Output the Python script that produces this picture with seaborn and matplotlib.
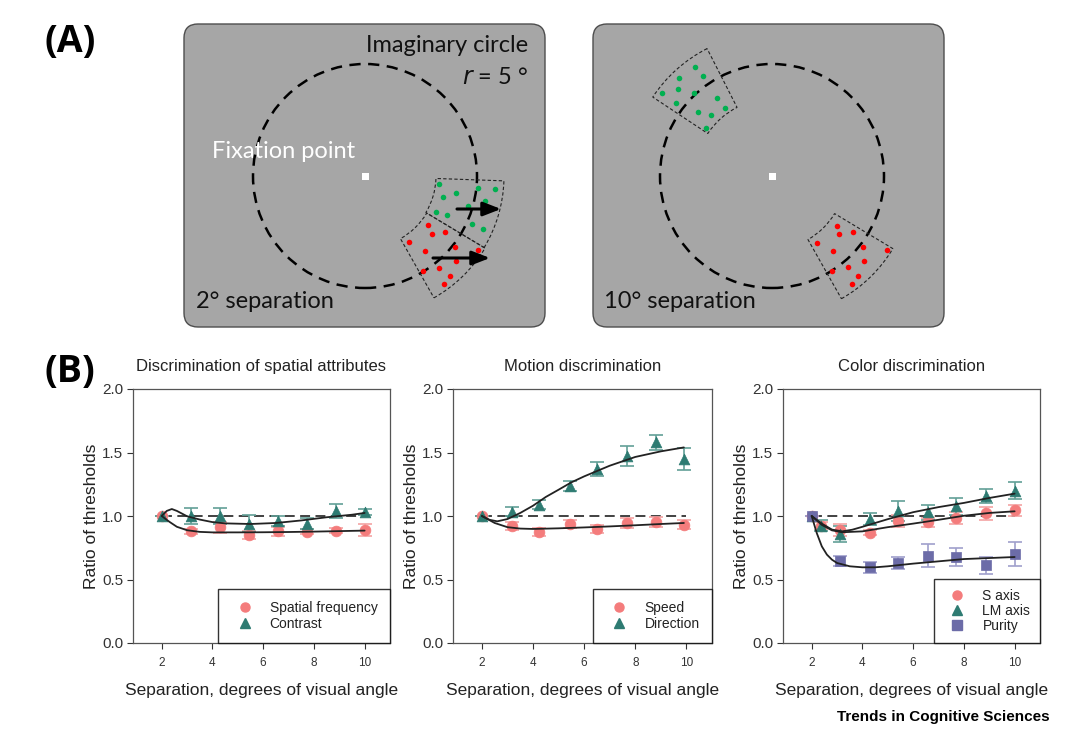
import numpy as np
import pandas as pd
import matplotlib
matplotlib.use("Agg")
import matplotlib.pyplot as plt
import seaborn as sns
from matplotlib.patches import FancyBboxPatch, Circle, Wedge, Rectangle
from matplotlib.lines import Line2D

# ---------------- data (panel B) ----------------
x_spatial = [2.0, 3.14, 4.29, 5.43, 6.57, 7.71, 8.86, 10.0]
sf_y = [1.0, 0.88, 0.91, 0.85, 0.88, 0.875, 0.885, 0.89]
sf_err = [0.0, 0.02, 0.04, 0.03, 0.035, 0.02, 0.02, 0.045]
contrast_y = [1.0, 1.0, 1.0, 0.94, 0.96, 0.94, 1.04, 1.03]
contrast_err = [0.0, 0.065, 0.063, 0.065, 0.04, 0.045, 0.055, 0.025]
sf_fit_x = [2.0, 2.3, 2.6, 3.0, 3.5, 4.0, 5.0, 6.0, 7.0, 8.0, 9.0, 10.0]
sf_fit_y = [1.0, 0.955, 0.915, 0.888, 0.875, 0.871, 0.871, 0.872, 0.874, 0.877, 0.881, 0.885]
ct_fit_x = [2.0, 2.2, 2.4, 2.6, 3.0, 3.5, 4.0, 4.5, 5.5, 6.5, 7.5, 8.5, 9.5, 10.0]
ct_fit_y = [1.0, 1.04, 1.055, 1.04, 0.998, 0.972, 0.952, 0.942, 0.937, 0.945, 0.965, 0.99, 1.01, 1.024]

x_motion = [2.0, 3.18, 4.23, 5.44, 6.52, 7.68, 8.82, 9.9]
speed_y = [1.0, 0.92, 0.875, 0.935, 0.90, 0.945, 0.95, 0.932]
speed_err = [0.0, 0.03, 0.03, 0.03, 0.03, 0.04, 0.04, 0.035]
dir_y = [1.0, 1.035, 1.09, 1.235, 1.37, 1.47, 1.58, 1.45]
dir_err = [0.0, 0.035, 0.037, 0.04, 0.058, 0.08, 0.058, 0.085]
sp_fit_x = [2.0, 2.5, 3.0, 3.5, 4.0, 5.0, 6.0, 7.0, 8.0, 9.0, 9.9]
sp_fit_y = [1.0, 0.945, 0.912, 0.901, 0.898, 0.903, 0.91, 0.918, 0.927, 0.937, 0.945]
dr_fit_x = [2.0, 2.3, 2.6, 3.0, 3.5, 4.0, 4.5, 5.0, 5.5, 6.0, 7.0, 8.0, 9.0, 9.9]
dr_fit_y = [1.0, 0.97, 0.958, 0.976, 1.024, 1.081, 1.15, 1.207, 1.265, 1.312, 1.396, 1.465, 1.509, 1.54]

x_color = [2.0, 2.37, 3.11, 4.31, 5.41, 6.59, 7.68, 8.86, 10.0]
s_y = [1.0, 0.92, 0.89, 0.87, 0.96, 0.95, 0.985, 1.02, 1.045]
s_err = [0.0, 0.03, 0.045, 0.02, 0.045, 0.035, 0.045, 0.05, 0.045]
lm_y = [1.0, 0.925, 0.86, 0.975, 1.04, 1.03, 1.075, 1.16, 1.2]
lm_err = [0.0, 0.04, 0.065, 0.045, 0.08, 0.06, 0.07, 0.055, 0.07]
x_purity = [2.0, 3.11, 4.31, 5.41, 6.59, 7.68, 8.86, 10.0]
pur_y = [1.0, 0.643, 0.596, 0.63, 0.688, 0.675, 0.612, 0.703]
pur_err = [0.0, 0.04, 0.045, 0.05, 0.09, 0.07, 0.065, 0.095]
s_fit_x = [2.0, 2.4, 2.8, 3.2, 4.0, 5.0, 6.0, 7.0, 8.0, 9.0, 10.0]
s_fit_y = [1.0, 0.93, 0.887, 0.872, 0.879, 0.912, 0.94, 0.97, 1.002, 1.024, 1.037]
lm_fit_x = [2.0, 2.4, 2.8, 3.2, 3.6, 4.0, 5.0, 6.0, 7.0, 8.0, 9.0, 10.0]
lm_fit_y = [1.0, 0.94, 0.893, 0.879, 0.892, 0.915, 0.975, 1.03, 1.07, 1.103, 1.142, 1.176]
pu_fit_x = [2.0, 2.2, 2.4, 2.6, 2.8, 3.0, 3.5, 4.0, 4.5, 5.0, 6.0, 7.0, 8.0, 9.0, 10.0]
pu_fit_y = [1.0, 0.866, 0.761, 0.696, 0.656, 0.63, 0.604, 0.596, 0.596, 0.604, 0.625, 0.643, 0.661, 0.669, 0.677]

titles = ["Discrimination of spatial attributes", "Motion discrimination", "Color discrimination"]
xlabel = "Separation, degrees of visual angle"
ylabel = "Ratio of thresholds"
xticks = [2, 4, 6, 8, 10]
yticks = [0.0, 0.5, 1.0, 1.5, 2.0]

# ---------------- style ----------------
sns.set_theme(style="white")
plt.rcParams['font.family'] = ['Liberation Sans', 'DejaVu Sans']

RED, RED_E = "#f47c7c", "#f4a3a3"
TEAL, TEAL_E = "#2e7b72", "#62a097"
PURP, PURP_E = "#6c6ca8", "#a0a0cc"

fig = plt.figure(figsize=(10.8, 7.39), dpi=100)

# ---------------- panel A (schematic) ----------------
H = 739
axA = fig.add_axes([0, 0, 1, 1], zorder=0)
axA.set_xlim(0, 1080)
axA.set_ylim(0, H)
axA.axis("off")

def Y(y):
    return H - y

for (x0, x1) in [(184, 545), (593, 944)]:
    axA.add_patch(FancyBboxPatch((x0 + 10, Y(327) + 10), x1 - x0 - 20, 303 - 20,
                                 boxstyle="round,pad=10,rounding_size=14",
                                 fc="#a6a6a6", ec="#4d4d4d", lw=1.0))

centers = [(365, Y(176)), (772, Y(176))]
for c in centers:
    axA.add_patch(Circle(c, 112, fill=False, ls=(0, (4.5, 3)), lw=1.8, ec="black"))
    axA.add_patch(Rectangle((c[0] - 3.5, c[1] - 3.5), 7, 7, fc="white", ec="none"))

# stimulus patches (annular sectors)
wedge_kw = dict(fill=False, ls=(0, (3, 2)), lw=0.8, ec="#222222")
axA.add_patch(Wedge(centers[0], 139, -31, -2, width=68, **wedge_kw))
axA.add_patch(Wedge(centers[0], 140, -60.5, -31, width=68, **wedge_kw))
axA.add_patch(Wedge(centers[1], 143, 117, 146.5, width=66, **wedge_kw))
axA.add_patch(Wedge(centers[1], 141, -60.5, -31, width=68, **wedge_kw))

green_dots_L = [(439, 184), (456, 193), (443, 197), (478, 188), (495, 189), (485, 201),
                (468, 206), (436, 212), (447, 215), (472, 224), (483, 229)]
red_dots_L = [(428, 225), (432, 234), (445, 232), (409, 242), (425, 251), (455, 247),
              (478, 250), (456, 261), (439, 268), (423, 271), (450, 276), (444, 284)]
green_dots_R = [(695, 67), (679, 78), (703, 76), (662, 93), (678, 89), (694, 93), (717, 98),
                (676, 103), (698, 112), (725, 108), (711, 115), (706, 128)]
red_dots_R = [(837, 226), (853, 232), (839, 234), (817, 243), (863, 247), (887, 250),
              (833, 251), (864, 261), (848, 267), (832, 271), (858, 276), (852, 284)]
for pts, col in [(green_dots_L, "#00b050"), (green_dots_R, "#00b050"),
                 (red_dots_L, "#ff0000"), (red_dots_R, "#ff0000")]:
    axA.scatter([p[0] for p in pts], [Y(p[1]) for p in pts], s=16, c=col, lw=0, zorder=3)

for (xs, xe, yy) in [(457, 501, 209), (433, 490, 258)]:
    axA.annotate("", xy=(xe, Y(yy)), xytext=(xs, Y(yy)),
                 arrowprops=dict(arrowstyle="-|>,head_length=0.9,head_width=0.35",
                                 color="black", lw=2.2, shrinkA=0, shrinkB=0), zorder=4)

fA = ['Lato', 'DejaVu Sans']
fsA = 17
axA.text(528, Y(46), "Imaginary circle", ha="right", va="center", fontsize=fsA, family=fA, color="#111111")
axA.text(528, Y(78), r"$\it{r}$ = 5 °", ha="right", va="center", fontsize=fsA, family=fA, color="#111111")
axA.text(212, Y(152), "Fixation point", ha="left", va="center", fontsize=fsA, family=fA, color="white")
axA.text(196, Y(302), "2° separation", ha="left", va="center", fontsize=fsA, family=fA, color="#111111")
axA.text(604, Y(302), "10° separation", ha="left", va="center", fontsize=fsA, family=fA, color="#111111")
axA.text(44, Y(42), "(A)", ha="left", va="center", fontsize=27, weight="bold",
         family=['Open Sans', 'DejaVu Sans'], color="black")
axA.text(44, Y(372), "(B)", ha="left", va="center", fontsize=27, weight="bold",
         family=['Open Sans', 'DejaVu Sans'], color="black")
axA.text(1050, Y(717), "Trends in Cognitive Sciences", ha="right", va="center", fontsize=11,
         weight="bold", family=['Liberation Sans Narrow', 'Liberation Sans', 'DejaVu Sans'], color="black")

# ---------------- panel B (plots) ----------------
positions = [[133 / 1080, 96 / 739, 257 / 1080, 254 / 739],
             [453 / 1080, 96 / 739, 259 / 1080, 254 / 739],
             [783 / 1080, 96 / 739, 257 / 1080, 254 / 739]]

panels = [
    [("Spatial frequency", x_spatial, sf_y, sf_err, RED, RED_E, "o", sf_fit_x, sf_fit_y),
     ("Contrast", x_spatial, contrast_y, contrast_err, TEAL, TEAL_E, "^", ct_fit_x, ct_fit_y)],
    [("Speed", x_motion, speed_y, speed_err, RED, RED_E, "o", sp_fit_x, sp_fit_y),
     ("Direction", x_motion, dir_y, dir_err, TEAL, TEAL_E, "^", dr_fit_x, dr_fit_y)],
    [("S axis", x_color, s_y, s_err, RED, RED_E, "o", s_fit_x, s_fit_y),
     ("LM axis", x_color, lm_y, lm_err, TEAL, TEAL_E, "^", lm_fit_x, lm_fit_y),
     ("Purity", x_purity, pur_y, pur_err, PURP, PURP_E, "s", pu_fit_x, pu_fit_y)],
]

for i, (pos, series) in enumerate(zip(positions, panels)):
    ax = fig.add_axes(pos, zorder=2)
    ax.set_facecolor("white")
    handles = []
    for (name, xs, ys, es, col, ecol, mk, fx, fy) in series:
        ax.errorbar(xs, ys, yerr=es, fmt="none", ecolor=ecol, elinewidth=1.2, capsize=5,
                    capthick=1.2, zorder=2)
        df = pd.DataFrame({"x": xs, "y": ys})
        msize = 60 if mk != "s" else 50
        sns.scatterplot(data=df, x="x", y="y", ax=ax, marker=mk, s=msize, color=col,
                        edgecolor=col, linewidth=0.5, zorder=3, legend=False)
        handles.append(Line2D([], [], ls="none", marker=mk, color=col, markersize=6.5, label=name))
    for (name, xs, ys, es, col, ecol, mk, fx, fy) in series:
        dff = pd.DataFrame({"x": fx, "y": fy})
        sns.lineplot(data=dff, x="x", y="y", ax=ax, color="#222222", lw=1.3, sort=False,
                     estimator=None, zorder=4)
    ax.plot([2, 10], [1, 1], ls=(0, (5.5, 3)), color="#333333", lw=1.3, zorder=1)

    ax.set_xlim(0.87, 11.0)
    ax.set_ylim(0, 2)
    ax.set_xticks(xticks)
    ax.set_yticks(yticks)
    ax.set_yticklabels([f"{v:.1f}" for v in yticks])
    ax.tick_params(axis="x", labelsize=8.5, colors="#333333", length=4, width=0.8,
                   direction="out", bottom=True, pad=6)
    ax.tick_params(axis="y", labelsize=11, colors="#333333", length=4, width=0.8,
                   direction="out", left=True, pad=3)
    for sp in ax.spines.values():
        sp.set_color("#555555")
        sp.set_linewidth(0.9)
    ax.set_title(titles[i], fontsize=12, color="#222222", pad=13)
    ax.set_xlabel(xlabel, fontsize=12.5, color="#222222", labelpad=10)
    ax.set_ylabel(ylabel, fontsize=12.5, color="#222222", labelpad=2)
    leg = ax.legend(handles=handles, loc="lower right", frameon=True, fontsize=10,
                    borderaxespad=0.0, handletextpad=0.8, fancybox=False,
                    borderpad=0.9 if len(series) == 2 else 0.7, labelspacing=0.1,
                    handlelength=2.0, edgecolor="black")
    leg.get_frame().set_linewidth(1.0)
    for t in leg.get_texts():
        t.set_color("#222222")

fig.savefig("out.png", dpi=100)
